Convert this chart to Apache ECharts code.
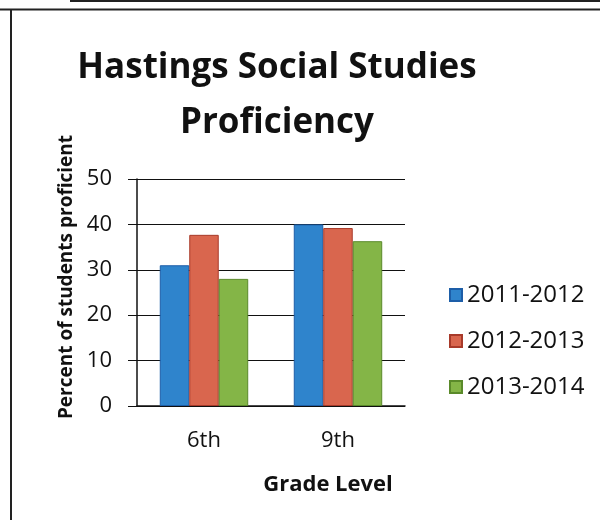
<!DOCTYPE html>
<html>
<head>
<meta charset="utf-8">
<script src="https://cdn.jsdelivr.net/npm/echarts@6/dist/echarts.min.js"></script>
<style>
  html, body { margin: 0; padding: 0; background: #fff; }
  #chart { width: 600px; height: 520px; }
</style>
</head>
<body>
<div id="chart"></div>
<script>
// data
const grades = ["6th", "9th"];
const years = ["2011-2012", "2012-2013", "2013-2014"];
const values2011 = [31, 40];
const values2012 = [37.7, 39.2];
const values2013 = [28, 36.3];
const yTicks = [0, 10, 20, 30, 40, 50];

const font = "Open Sans";
const colors = ["#2f84cc", "#d9664e", "#84b547"];
const borders = ["#1d5ea8", "#a83a2a", "#5a8a2a"];

const seriesValues = [values2011, values2012, values2013];

let myChart = echarts.init(document.getElementById("chart"), null, { renderer: "canvas" });
let option = {
    animation: false,
    backgroundColor: "#fff",
    title: [
        {
            text: "Hastings Social Studies\nProficiency",
            left: 272,
            top: 36,
            textAlign: "center",
            textStyle: { fontFamily: font, fontSize: 35, fontWeight: "bold", lineHeight: 55, color: "#111" }
        },
        {
            text: "Grade Level",
            left: 323,
            top: 469,
            textAlign: "center",
            textStyle: { fontFamily: font, fontSize: 22, fontWeight: "bold", color: "#111" }
        }
    ],
    grid: { left: 137, right: 195, top: 179, bottom: 114 },
    legend: {
        orient: "vertical",
        left: 444,
        top: 278,
        itemWidth: 12,
        itemHeight: 12,
        itemGap: 22,
        icon: "rect",
        textStyle: { fontFamily: font, fontSize: 24, color: "#111" },
        data: years
    },
    xAxis: {
        type: "category",
        data: grades,
        axisTick: { show: false },
        axisLine: { lineStyle: { color: "#111", width: 1.5 } },
        axisLabel: { fontFamily: font, fontSize: 22, color: "#111", margin: 24 }
    },
    yAxis: {
        type: "value",
        min: yTicks[0],
        max: yTicks[yTicks.length - 1],
        interval: 10,
        name: "Percent of students proficient",
        nameLocation: "middle",
        nameRotate: 90,
        nameGap: 61,
        nameTextStyle: { fontFamily: font, fontSize: 19, fontWeight: "bold", color: "#111", padding: [0, 0, 0, 31] },
        axisLine: { show: true, lineStyle: { color: "#111", width: 1.5 } },
        axisTick: { show: true, length: 9, lineStyle: { color: "#111" } },
        splitLine: { lineStyle: { color: "#111", width: 1 } },
        axisLabel: { fontFamily: font, fontSize: 22, color: "#111", margin: 25 }
    },
    series: years.map((name, i) => ({
        name: name,
        type: "bar",
        data: seriesValues[i],
        barGap: "0%",
        barCategoryGap: "34%",
        itemStyle: { color: colors[i], borderColor: borders[i], borderWidth: 1 }
    })),
    graphic: [
        // scanned page frame
        { type: "line", shape: { x1: 0, y1: 9.5, x2: 600, y2: 9.5 }, style: { stroke: "#222", lineWidth: 2 } },
        { type: "line", shape: { x1: 70, y1: 1, x2: 600, y2: 1 }, style: { stroke: "#222", lineWidth: 2 } },
        { type: "line", shape: { x1: 11, y1: 9, x2: 11, y2: 520 }, style: { stroke: "#222", lineWidth: 2 } }
    ]
};

myChart.setOption(option);
</script>
</body>
</html>
